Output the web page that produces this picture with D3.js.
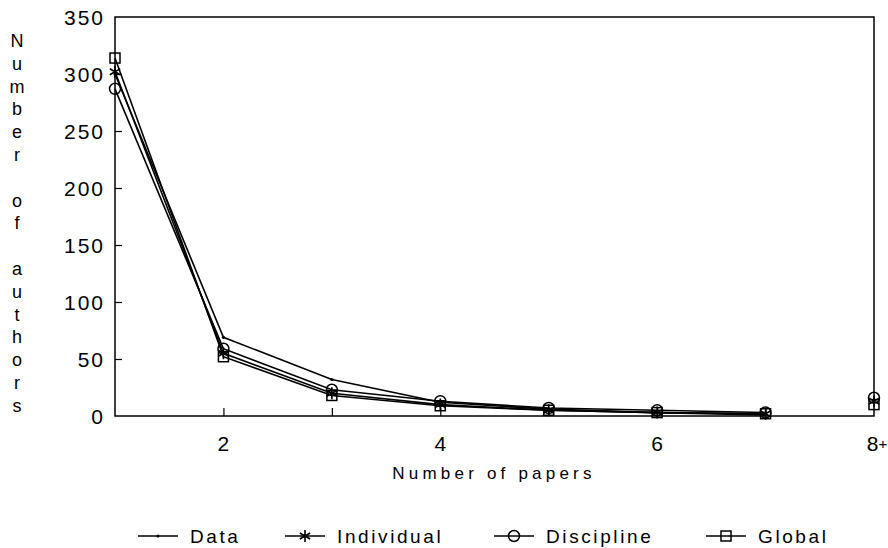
<!DOCTYPE html>
<html>
<head>
<meta charset="utf-8">
<script src="https://cdn.jsdelivr.net/npm/d3@7"></script>
<style>
  body { margin: 0; background: #fff; }
  svg { font-family: "Liberation Sans", Arial, sans-serif; }
  .tick text { font-size: 21px; letter-spacing: 2px; fill: #000; }
</style>
</head>
<body>
<div id="holder"></div>
<script>
// number of papers (last one is "8+")
const papers = [1, 2, 3, 4, 5, 6, 7, 8];
const xTickVals = [2, 4, 6, 8];
const xTickLabels = ["2", "4", "6", "8"];
const yTickVals = [0, 50, 100, 150, 200, 250, 300, 350];

// series values, null = not joined by the line
const dataVals       = [300, 69, 32, 12, 6, 3, 1, null];
const individualVals = [302, 55, 20, 10, 5, 3, 2, 13];
const disciplineVals = [287, 59, 23, 13, 7, 5, 3, 16];
const globalVals     = [314, 52, 18, 9, 5, 3, 2, 10];

const seriesNames = ["Data", "Individual", "Discipline", "Global"];
const seriesMarks = ["dot", "star", "circle", "square"];

const w = 888, h = 548;
const padLeft = 115, padRight = 874, padTop = 17, padBottom = 416;

let svg = d3.select("#holder").append("svg")
    .attr("width", w).attr("height", h);

let xScale = d3.scaleLinear().domain([1, 8]).range([padLeft, padRight]);
let yScale = d3.scaleLinear().domain([0, 350]).range([padBottom, padTop]);

// frame
svg.append("rect")
    .attr("x", padLeft).attr("y", padTop)
    .attr("width", padRight - padLeft).attr("height", padBottom - padTop)
    .attr("fill", "none").attr("stroke", "#000").attr("stroke-width", 1.5);

// y axis (ticks point inward)
const yAxis = d3.axisRight(yScale).tickValues(yTickVals).tickSize(7).tickFormat(d3.format("d"));
let yg = svg.append("g").attr("transform", "translate(" + padLeft + ",0)").call(yAxis);
yg.select(".domain").remove();
yg.selectAll(".tick line").attr("stroke-width", 1.2)
    .style("display", d => (d == 0 || d == 350) ? "none" : null);
yg.selectAll(".tick text").attr("x", -10).attr("text-anchor", "end").attr("dy", "0.36em");

// x axis (ticks point up)
const xAxis = d3.axisBottom(xScale).tickValues([2, 3, 4, 5, 6, 7]).tickSize(-8).tickFormat("");
let xg = svg.append("g").attr("transform", "translate(0," + padBottom + ")").call(xAxis);
xg.select(".domain").remove();
xg.selectAll(".tick line").attr("stroke-width", 1.2);

let xLabels = svg.append("g").selectAll("text")
    .data(xTickVals)
    .enter().append("text")
    .attr("x", d => xScale(d))
    .attr("y", 451)
    .attr("text-anchor", "middle")
    .style("font-size", "21px")
    .text((d, i) => xTickLabels[i]);
// the last one is "8+" with a small plus
xLabels.filter((d, i) => i == 3)
    .append("tspan").style("font-size", "15px").attr("dy", -2).text("+");
xLabels.filter((d, i) => i == 3).attr("x", d => xScale(d) + 3);

// axis titles
svg.append("text")
    .attr("x", 494).attr("y", 479)
    .attr("text-anchor", "middle")
    .style("font-size", "17px")
    .style("letter-spacing", "4.2px")
    .text("Number of papers");

const yTitle = "Number of authors".split("");
svg.append("g").selectAll("text")
    .data(yTitle)
    .enter().append("text")
    .attr("x", 17)
    .attr("y", (d, i) => 47 + i * 22.8)
    .attr("text-anchor", "middle")
    .style("font-size", "18px")
    .text(d => d);

// markers
function drawMark(g, type, x, y) {
    if (type == "dot") {
        g.append("circle").attr("cx", x).attr("cy", y).attr("r", 1.6).attr("fill", "#000");
    } else if (type == "circle") {
        g.append("circle").attr("cx", x).attr("cy", y).attr("r", 5.5)
            .attr("fill", "none").attr("stroke", "#000").attr("stroke-width", 1.5);
    } else if (type == "square") {
        g.append("rect").attr("x", x - 5).attr("y", y - 5).attr("width", 10).attr("height", 10)
            .attr("fill", "none").attr("stroke", "#000").attr("stroke-width", 1.5);
    } else if (type == "star") {
        let r = 6;
        let p = "M" + x + "," + (y - r) + "L" + x + "," + (y + r);
        [30, 150].forEach(a => {
            let dx = r * Math.cos(a * Math.PI / 180), dy = r * Math.sin(a * Math.PI / 180);
            p += "M" + (x - dx) + "," + (y - dy) + "L" + (x + dx) + "," + (y + dy);
        });
        g.append("path").attr("d", p).attr("stroke", "#000").attr("stroke-width", 1.6);
    }
}

const allSeries = [dataVals, individualVals, disciplineVals, globalVals];

let valueLine = d3.line()
    .defined((d, i) => d != null && i < 7)
    .x((d, i) => xScale(papers[i]))
    .y(d => yScale(d))
    .curve(d3.curveLinear);

allSeries.forEach((vals, k) => {
    svg.append("path")
        .attr("d", valueLine(vals))
        .attr("fill", "none")
        .attr("stroke", "#000")
        .attr("stroke-width", 1.6);
    let g = svg.append("g");
    vals.forEach((v, i) => {
        if (v == null) return;
        drawMark(g, seriesMarks[k], xScale(papers[i]), yScale(v));
    });
});

// legend
const legendX = [138, 285, 494, 706];
const legendY = 536;
seriesNames.forEach((name, k) => {
    let g = svg.append("g");
    let x0 = legendX[k];
    g.append("line").attr("x1", x0).attr("x2", x0 + 40)
        .attr("y1", legendY).attr("y2", legendY)
        .attr("stroke", "#000").attr("stroke-width", 1.5);
    drawMark(g, seriesMarks[k], x0 + 20, legendY);
    g.append("text")
        .attr("x", x0 + 52).attr("y", legendY + 7)
        .style("font-size", "19px")
        .style("letter-spacing", "2.6px")
        .text(name);
});
</script>
</body>
</html>
